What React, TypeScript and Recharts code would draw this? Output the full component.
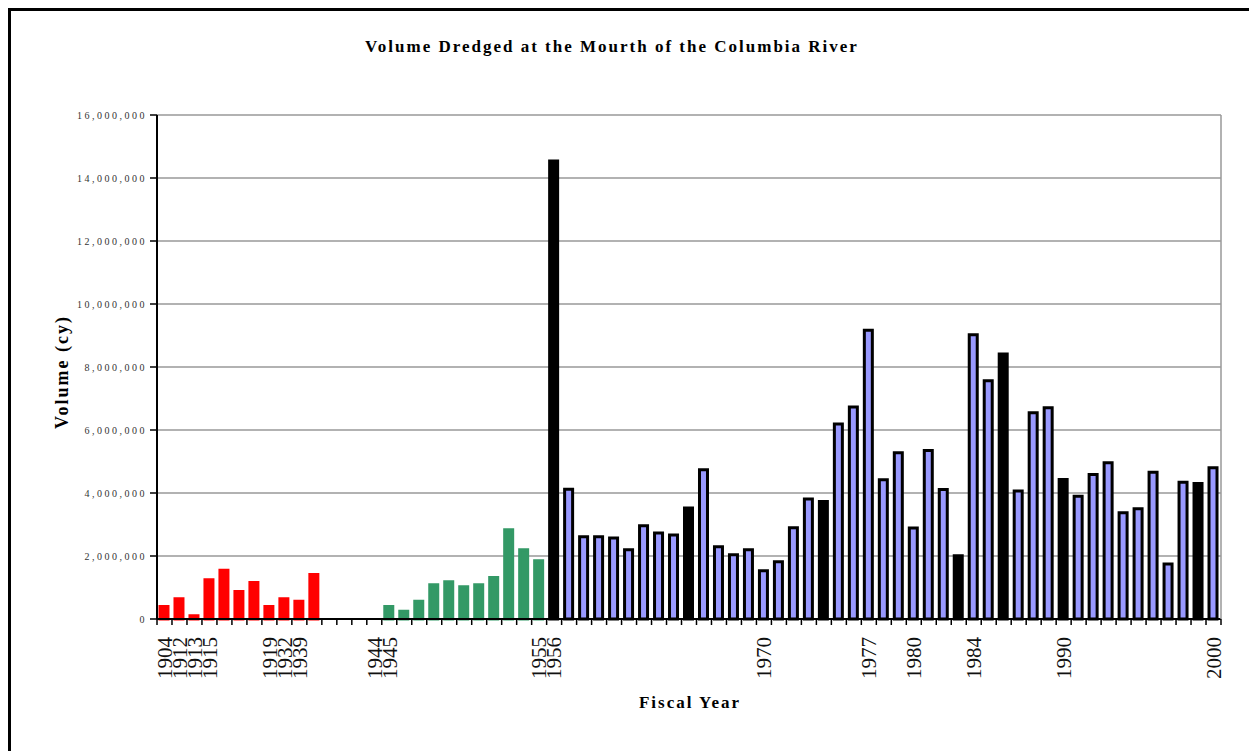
import React from "react";
import { BarChart, Bar, XAxis, YAxis, CartesianGrid, Cell } from "recharts";

// cubic yards
const earlyVolumes = [400000, 640000, 100000, 1250000, 1550000, 870000, 1160000, 400000, 640000, 560000, 1410000];
const emptySlots = 4;
const postWarVolumes = [400000, 250000, 560000, 1090000, 1180000, 1020000, 1090000, 1320000, 2830000, 2200000, 1850000];
const modernVolumes = [
  14540000, 4120000, 2610000, 2610000, 2570000, 2200000, 2960000, 2730000, 2670000, 3520000,
  4740000, 2290000, 2040000, 2200000, 1530000, 1820000, 2900000, 3810000, 3730000, 6190000,
  6730000, 9170000, 4420000, 5280000, 2890000, 5350000, 4110000, 2010000, 9020000, 7560000,
  8410000, 4060000, 6550000, 6710000, 4430000, 3900000, 4590000, 4960000, 3370000, 3500000,
  4660000, 1750000, 4340000, 4300000, 4800000,
];
const modernFirstYear = 1956;
const blackYears = [1956, 1965, 1974, 1983, 1986, 1990, 1999];

const xLabels = [
  "1904", "1912", "1913", "1915", "", "", "", "1919", "1932", "1939", "",
  "", "", "", "1944",
  "1945", "", "", "", "", "", "", "", "", "", "1955",
  "1956", "", "", "", "", "", "", "", "", "", "", "", "", "", "1970",
  "", "", "", "", "", "", "1977", "", "", "1980", "", "", "", "1984",
  "", "", "", "", "", "1990", "", "", "", "", "", "", "", "", "", "2000",
];
const yTicks = [0, 2000000, 4000000, 6000000, 8000000, 10000000, 12000000, 14000000, 16000000];

type Kind = "early" | "postwar" | "black" | "blue" | "none";
const data: { slot: number; volume: number | null; kind: Kind }[] = [];
earlyVolumes.forEach((v) => data.push({ slot: data.length, volume: v, kind: "early" }));
for (let i = 0; i < emptySlots; i++) data.push({ slot: data.length, volume: null, kind: "none" });
postWarVolumes.forEach((v) => data.push({ slot: data.length, volume: v, kind: "postwar" }));
modernVolumes.forEach((v, i) =>
  data.push({
    slot: data.length,
    volume: v,
    kind: blackYears.includes(modernFirstYear + i) ? "black" : "blue",
  })
);

const FILL: Record<Kind, string> = {
  early: "#ff0000",
  postwar: "#339966",
  black: "#000000",
  blue: "#9999ff",
  none: "none",
};
const STROKE: Record<Kind, string> = {
  early: "#ff0000",
  postwar: "#339966",
  black: "#000000",
  blue: "#000000",
  none: "none",
};

const PLOT_LEFT = 157;
const PLOT_RIGHT = 1221;
const STEP = (PLOT_RIGHT - PLOT_LEFT) / data.length;
const serif = "'Liberation Serif', 'Times New Roman', serif";

const XTick = (props: any) => {
  const { x, y, payload, index } = props;
  const label = xLabels[payload.value] || "";
  const ty = y + 18;
  return (
    <g>
      <line x1={x - STEP / 2} x2={x - STEP / 2} y1={y} y2={y + 6} stroke="#000" strokeWidth={1.5} />
      {index === data.length - 1 && (
        <line x1={x + STEP / 2} x2={x + STEP / 2} y1={y} y2={y + 6} stroke="#000" strokeWidth={1.5} />
      )}
      {label && (
        <text
          x={x}
          y={ty}
          dy="0.35em"
          transform={`rotate(-90, ${x}, ${ty})`}
          textAnchor="end"
          fontFamily={serif}
          fontSize={21}
          fill="#111"
        >
          {label}
        </text>
      )}
    </g>
  );
};

export default function App() {
  return (
    <div
      style={{
        position: "fixed",
        left: 0,
        top: 0,
        width: 1249,
        height: 751,
        background: "#fff",
        overflow: "hidden",
        fontFamily: serif,
      }}
    >
      {/* outer frame */}
      <div
        style={{
          position: "absolute",
          left: 8,
          top: 8,
          width: 1249 - 8 - 3,
          height: 800,
          borderLeft: "3px solid #000",
          borderTop: "3px solid #000",
          borderRight: "1px solid #999",
        }}
      />
      <div
        style={{
          position: "absolute",
          left: 0,
          width: 1224,
          top: 37,
          textAlign: "center",
          fontWeight: "bold",
          fontSize: 17,
          letterSpacing: 2,
          color: "#000",
        }}
      >
        Volume Dredged at the Mourth of the Columbia River
      </div>
      <div
        style={{
          position: "absolute",
          left: 62,
          top: 372,
          transform: "translate(-50%, -50%) rotate(-90deg)",
          whiteSpace: "nowrap",
          fontWeight: "bold",
          fontSize: 18,
          letterSpacing: 2,
          color: "#000",
        }}
      >
        Volume (cy)
      </div>
      <div
        style={{
          position: "absolute",
          left: 690,
          top: 703,
          transform: "translate(-50%, -50%)",
          whiteSpace: "nowrap",
          fontWeight: "bold",
          fontSize: 17,
          letterSpacing: 2,
          color: "#000",
        }}
      >
        Fiscal Year
      </div>
      <div style={{ position: "absolute", left: 0, top: 0 }}>
        <BarChart
          width={1249}
          height={751}
          data={data}
          margin={{ top: 115, right: 1249 - PLOT_RIGHT - 1, bottom: 751 - 619 - 80, left: PLOT_LEFT - 80 }}
          barCategoryGap={0}
        >
          <CartesianGrid vertical={false} stroke="#999" strokeWidth={1.5} />
          <XAxis
            dataKey="slot"
            type="category"
            interval={0}
            height={80}
            tickSize={0}
            tickMargin={0}
            tickLine={false}
            axisLine={{ stroke: "#000", strokeWidth: 2 }}
            tick={<XTick />}
          />
          <YAxis
            width={80}
            domain={[0, 16000000]}
            ticks={yTicks}
            interval={0}
            tickSize={7}
            tickMargin={3}
            tickLine={{ stroke: "#000", strokeWidth: 1.5 }}
            axisLine={{ stroke: "#000", strokeWidth: 2 }}
            tickFormatter={(v: number) => v.toLocaleString("en-US")}
            tick={{ fontFamily: serif, fontSize: 10, letterSpacing: 2.5, fill: "#333" }}
          />
          <YAxis
            yAxisId="frame"
            orientation="right"
            width={1}
            domain={[0, 16000000]}
            tick={false}
            tickLine={false}
            axisLine={{ stroke: "#999", strokeWidth: 1.5 }}
          />
          <Bar dataKey="volume" barSize={8} isAnimationActive={false}>
            {data.map((d) => (
              <Cell key={d.slot} fill={FILL[d.kind]} stroke={STROKE[d.kind]} strokeWidth={3} />
            ))}
          </Bar>
        </BarChart>
      </div>
    </div>
  );
}
